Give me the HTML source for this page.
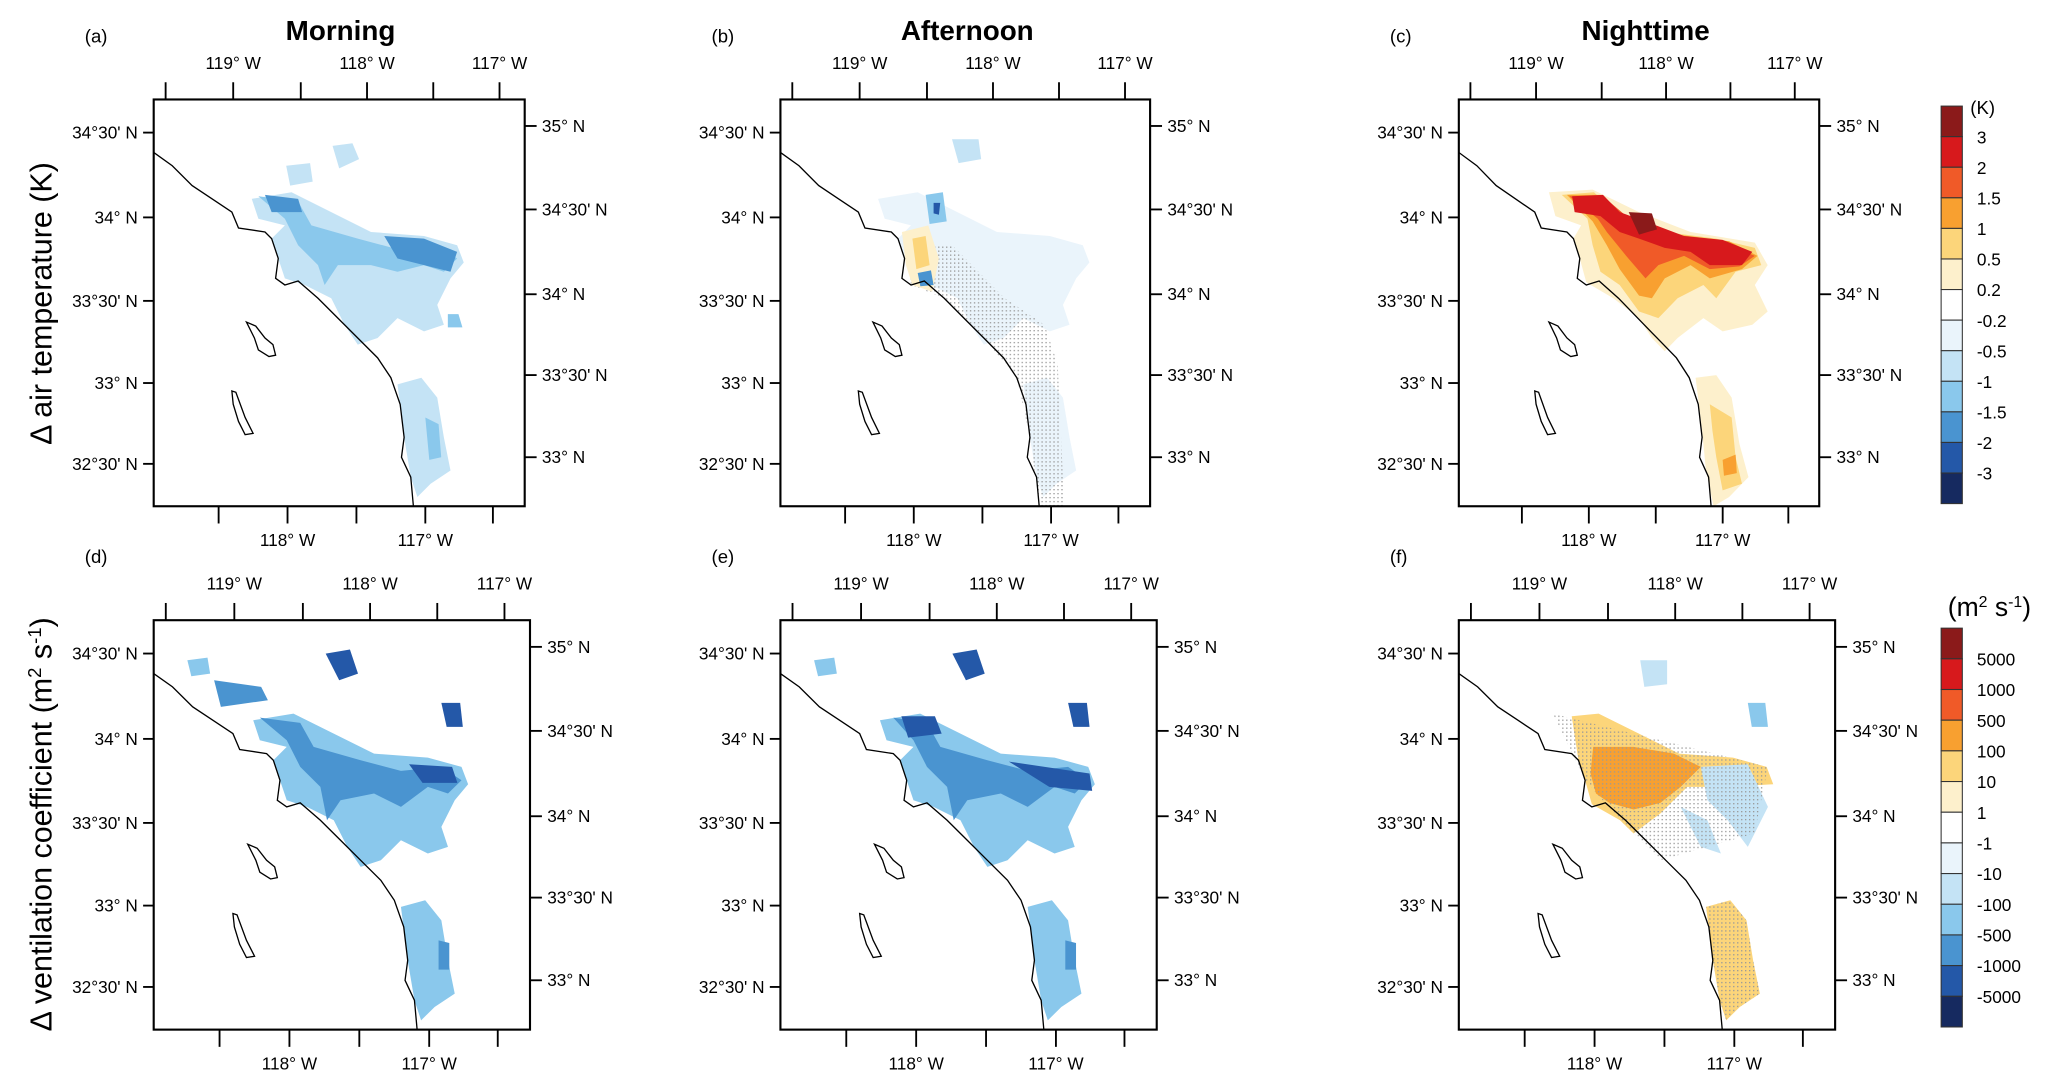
<!DOCTYPE html>
<html><head><meta charset="utf-8">
<style>
html,body{margin:0;padding:0;background:#fff;}
svg{display:block;font-family:"Liberation Sans",sans-serif;}
</style></head>
<body>
<svg id="fig" width="2067" height="1092" viewBox="0 0 1560 824" xmlns="http://www.w3.org/2000/svg">
<defs>
<pattern id="stip" width="3" height="3" patternUnits="userSpaceOnUse"><rect x="0" y="0" width="1" height="1" fill="#999"/></pattern>
</defs>
</svg>
<script>
const NS='http://www.w3.org/2000/svg';
const svg=document.getElementById('fig');
const tempLabels=['3','2','1.5','1','0.5','0.2','-0.2','-0.5','-1','-1.5','-2','-3'];
const vcLabels=['5000','1000','500','100','10','1','-1','-10','-100','-500','-1000','-5000'];
const levelColors=['#8b1a1a','#d7191c','#f05a28','#f8a030','#fcd57a','#fdf0cc','#ffffff','#eaf4fb','#c4e3f5','#8ac8ec','#4a94d0','#2458a8','#162a60'];
const leftLatLabels=["34°30' N","34° N","33°30' N","33° N","32°30' N"];
const rightLatLabels=["35° N","34°30' N","34° N","33°30' N","33° N"];
const topLonLabels=["119° W","118° W","117° W"];
const botLonLabels=["118° W","117° W"];
const panels=[
 {id:'a',x:116,y:75,w:280,h:307,title:'Morning'},
 {id:'b',x:589,y:75,w:279,h:307,title:'Afternoon'},
 {id:'c',x:1101,y:75,w:272,h:307,title:'Nighttime'},
 {id:'d',x:116,y:468,w:284,h:309},
 {id:'e',x:589,y:468,w:284,h:309},
 {id:'f',x:1101,y:468,w:284,h:309}
];
const coast=[[0,40],[14,50],[29,65],[44,75],[59,85],[64,97],[84,100],[89,105],[94,120],[92,135],[99,140],[109,137],[124,150],[139,165],[154,180],[169,195],[179,210],[186,230],[189,255],[187,270],[194,285],[196,307]];
const island1=[[70,168],[77,171],[84,180],[90,185],[92,193],[87,194],[79,189],[76,180]];
const island2=[[59,220],[62,221],[69,240],[75,252],[69,253],[64,243],[60,230]];
const mainBlob=[[74,75],[104,70],[134,85],[164,100],[204,103],[229,110],[234,123],[224,135],[214,155],[219,170],[204,175],[184,165],[169,180],[154,185],[144,170],[134,150],[114,140],[99,135],[94,120],[89,105],[99,95],[79,90]];
const southBlob=[[184,215],[202,210],[214,225],[219,255],[224,280],[209,290],[199,300],[194,285],[189,255]];
const shapes={
 a:[[8,mainBlob],[8,southBlob],[8,[[135,35],[150,33],[155,45],[140,52]]],[8,[[100,50],[118,48],[120,62],[103,65]]],
    [9,[[79,73],[109,77],[119,95],[154,105],[184,113],[214,110],[229,120],[219,130],[204,125],[184,130],[164,125],[139,125],[129,140],[124,125],[109,110],[99,90]]],
    [9,[[205,240],[215,245],[217,270],[208,272]]],[9,[[222,162],[230,162],[233,172],[222,172]]],
    [10,[[84,72],[109,75],[112,85],[89,85]]],[10,[[174,103],[204,105],[229,115],[224,130],[204,125],[184,120]]]],
 b:[[7,mainBlob],[7,southBlob],['s',[[95,110],[130,110],[170,150],[200,170],[210,200],[215,307],[196,307],[189,255],[179,210],[154,180],[124,150],[99,140]]],
    [5,[[92,100],[112,95],[120,120],[115,145],[100,140],[95,125]]],[4,[[100,105],[110,103],[113,125],[103,128]]],
    [9,[[110,72],[123,70],[126,92],[113,94]]],[11,[[116,78],[121,78],[120,87],[116,86]]],[10,[[104,131],[114,129],[116,140],[106,141]]],[8,[[130,30],[150,30],[152,45],[135,48]]]],
 c:[[5,[[70,70],[104,68],[140,85],[180,100],[230,108],[240,125],[230,140],[240,160],[228,170],[205,175],[190,165],[170,180],[160,190],[150,180],[140,165],[120,150],[99,138],[94,120],[89,105],[95,95],[75,88]]],
    [5,[[184,210],[200,208],[212,225],[218,260],[225,285],[210,300],[198,307],[192,280],[189,250]]],
    [4,[[80,72],[105,70],[125,88],[160,100],[200,105],[230,112],[235,125],[215,130],[200,150],[190,140],[170,150],[155,165],[140,160],[125,140],[110,130],[104,110],[100,90]]],
    [4,[[195,230],[212,240],[215,270],[220,290],[205,295],[200,270],[197,250]]],
    [3,[[84,72],[110,72],[130,90],[170,102],[210,107],[232,118],[220,128],[195,135],[180,125],[160,135],[150,150],[140,148],[125,128],[115,110],[104,92]]],
    [3,[[205,272],[215,268],[216,282],[206,284]]],
    [2,[[86,73],[112,73],[135,92],[170,103],[205,108],[230,118],[218,126],[195,128],[175,118],[155,125],[145,135],[130,118],[115,100],[108,90]]],
    [1,[[88,73],[112,72],[125,85],[145,92],[175,103],[205,106],[228,115],[220,125],[195,125],[180,115],[160,112],[140,105],[125,100],[110,88],[90,85]]],
    [0,[[132,85],[150,86],[154,98],[140,102]]]],
 d:[[9,mainBlob],[9,southBlob],[9,[[25,30],[40,28],[42,40],[28,42]]],
    [10,[[79,73],[109,77],[119,95],[154,105],[184,113],[214,110],[229,120],[219,130],[204,125],[184,140],[164,130],[139,135],[129,150],[124,125],[109,110],[99,90]]],
    [10,[[212,240],[220,242],[220,262],[212,262]]],[10,[[45,45],[80,50],[85,60],[50,65]]],
    [11,[[128,25],[146,22],[152,40],[138,45]]],[11,[[214,62],[228,62],[230,80],[218,80]]],[11,[[190,108],[222,110],[226,122],[200,122]]]],
 e:[[9,mainBlob],[9,southBlob],[9,[[25,30],[40,28],[42,40],[28,42]]],
    [10,[[84,73],[109,77],[119,95],[154,105],[184,113],[214,110],[229,120],[219,130],[204,125],[184,140],[164,130],[139,135],[129,150],[124,125],[109,110],[99,90]]],
    [10,[[212,240],[220,242],[220,262],[212,262]]],
    [11,[[90,72],[115,72],[120,85],[95,88]]],[11,[[128,25],[146,22],[152,40],[138,45]]],[11,[[214,62],[228,62],[230,80],[218,80]]],[11,[[170,106],[230,115],[232,128],[200,125]]]],
 f:[[4,[[84,72],[104,70],[134,85],[164,100],[204,103],[229,110],[234,123],[200,125],[170,125],[150,145],[130,160],[120,150],[99,138],[94,120],[89,105]]],
    [4,southBlob],[8,[[180,110],[215,108],[230,140],[215,170],[200,150],[185,135]]],[8,[[165,140],[185,150],[195,175],[180,170]]],[8,[[135,30],[155,30],[155,48],[138,50]]],[9,[[215,62],[228,62],[230,80],[218,80]]],
    [3,[[100,95],[130,95],[160,100],[180,110],[165,125],[150,137],[130,142],[112,137],[102,130],[98,115]]],
    ['s',[[70,70],[130,85],[230,110],[220,160],[150,180],[120,150],[94,120]]],['s',southBlob]]
};
function proj(p,pt){return [p.x+pt[0]*p.w/280, p.y+pt[1]*p.h/307];}
function mk(tag,attrs,parent){const e=document.createElementNS(NS,tag);for(const k in attrs)e.setAttribute(k,attrs[k]);(parent||svg).appendChild(e);return e;}
function txt(x,y,s,attrs,parent){const t=mk('text',Object.assign({x:x,y:y},attrs),parent);t.textContent=s;return t;}
function pts(p,arr){return arr.map(q=>proj(p,q).map(v=>v.toFixed(1)).join(',')).join(' ');}

panels.forEach((p,i)=>{
 const g=mk('g',{});
 
 
 const cp=mk('clipPath',{id:'clip'+p.id},g);
 mk('rect',{x:p.x,y:p.y,width:p.w,height:p.h},cp);
 const mg=mk('g',{'clip-path':'url(#clip'+p.id+')'},g);
 
 
 shapes[p.id].forEach(s=>{
  const fill=s[0]==='s'?'url(#stip)':levelColors[s[0]];
  mk('polygon',{points:pts(p,s[1]),fill:fill,stroke:'none'},mg);
 });
 const cl=mk('polyline',{points:pts(p,coast),fill:'none',stroke:'#000','stroke-width':1},mg);
 
 
 [island1,island2].forEach(isl=>{const e=mk('polygon',{points:pts(p,isl),fill:'none',stroke:'#000','stroke-width':1},mg);
  });
 const fr=mk('rect',{x:p.x,y:p.y,width:p.w,height:p.h,fill:'none',stroke:'#000','stroke-width':1.6},g);
 
 
 const sy=p.h/307, sx=p.w/280;
 const fs=13;
 [25,89,152,214,275].forEach((o,k)=>{const y=p.y+o*sy;
  mk('line',{x1:p.x-8,x2:p.x,y1:y,y2:y,stroke:'#000','stroke-width':1.4},g);
  const t=txt(p.x-12,y+4.5,leftLatLabels[k],{'font-size':fs,'text-anchor':'end'},g);
  });
 [20,83,147,208,270].forEach((o,k)=>{const y=p.y+o*sy;
  mk('line',{x1:p.x+p.w,x2:p.x+p.w+9,y1:y,y2:y,stroke:'#000','stroke-width':1.4},g);
  const t=txt(p.x+p.w+13,y+4.5,rightLatLabels[k],{'font-size':fs},g);
  });
 [9,60,111,161,211,261].forEach(o=>{const x=p.x+o*sx;mk('line',{x1:x,x2:x,y1:p.y-13,y2:p.y,stroke:'#000','stroke-width':1.4},g);});
 [60,161,261].forEach((o,k)=>{const t=txt(p.x+o*sx,p.y-23,topLonLabels[k],{'font-size':fs,'text-anchor':'middle'},g);
  });
 [49,101,153,205,256].forEach(o=>{const x=p.x+o*sx;mk('line',{x1:x,x2:x,y1:p.y+p.h,y2:p.y+p.h+13,stroke:'#000','stroke-width':1.4},g);});
 [101,205].forEach((o,k)=>{const t=txt(p.x+o*sx,p.y+p.h+30,botLonLabels[k],{'font-size':fs,'text-anchor':'middle'},g);
  });
 const pl=txt(p.x-52,p.y-43,'('+p.id+')',{'font-size':14},g);
 
 if(p.title){const t=txt(p.x+141,p.y-45,p.title,{'font-size':21,'font-weight':'bold','text-anchor':'middle'},g);
  }
});

const yt1=txt(0,0,'Δ air temperature (K)',{'font-size':23,'text-anchor':'middle',transform:'translate(39,229) rotate(-90)'});


const yt2=mk('text',{'font-size':23,'text-anchor':'middle',transform:'translate(39,622) rotate(-90)'});


yt2.innerHTML='Δ ventilation coefficient (m<tspan dy="-8" font-size="14">2</tspan><tspan dy="8"> s</tspan><tspan dy="-8" font-size="14">-1</tspan><tspan dy="8">)</tspan>';

function colorbar(x,y0,y1,labels,name){
 const g=mk('g',{});
 
 
 const n=levelColors.length, h=(y1-y0)/n;
 levelColors.forEach((c,k)=>{mk('rect',{x:x,y:y0+k*h,width:16,height:h,fill:c,stroke:'#333','stroke-width':0.8},g);});
 labels.forEach((l,k)=>{const t=txt(x+27,y0+(k+1)*h+5,l,{'font-size':13,'text-anchor':'start'},g);
  });
 return g;
}
const cb1=colorbar(1465,80,380,tempLabels,'temperature-colorbar');
const ku=txt(1487,86,'(K)',{'font-size':14},cb1);


const cb2=colorbar(1465,474,775,vcLabels,'ventilation-colorbar');
const vu=mk('text',{x:1470,y:465,'font-size':20},cb2);


vu.innerHTML='(m<tspan dy="-7" font-size="12">2</tspan><tspan dy="7"> s</tspan><tspan dy="-7" font-size="12">-1</tspan><tspan dy="7">)</tspan>';
</script>
</body></html>
